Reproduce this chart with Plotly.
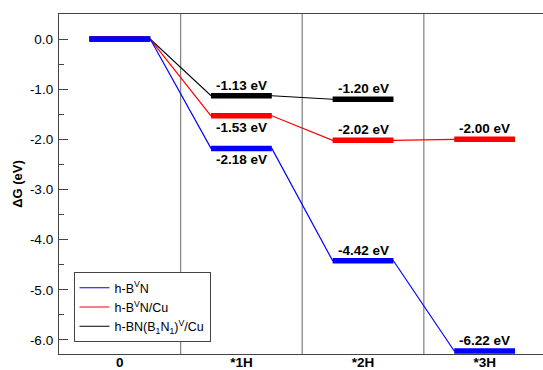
import plotly.graph_objects as go

categories = ["0", "*1H", "*2H", "*3H"]
series_names = [
    "h-B<sup>V</sup>N",
    "h-B<sup>V</sup>N/Cu",
    "h-BN(B<sub>1</sub>N<sub>1</sub>)<sup>V</sup>/Cu",
]
blue_vals = [0.0, -2.18, -4.42, -6.22]
red_vals = [0.0, -1.53, -2.02, -2.00]
black_vals = [0.0, -1.13, -1.20]
y_ticks = [0.0, -1.0, -2.0, -3.0, -4.0, -5.0, -6.0]

series = [
    (series_names[2], black_vals, "#000000", [None, "above", "above"], 3),
    (series_names[1], red_vals, "#ff0000", [None, "below", "above", "above"], 2),
    (series_names[0], blue_vals, "#0000ff", [None, "below", "above", "above"], 1),
]

HALF = 0.25
fig = go.Figure()
annotations = []
for name, vals, color, places, rank in series:
    xs, ys, bx, by = [], [], [], []
    for i, v in enumerate(vals):
        xs += [i - HALF, i + HALF]
        ys += [v, v]
        bx += [i - HALF, i + HALF, None]
        by += [v, v, None]
    fig.add_trace(go.Scatter(x=xs, y=ys, mode="lines", name=name,
                             line=dict(color=color, width=1.2), legendrank=rank))
    fig.add_trace(go.Scatter(x=bx, y=by, mode="lines", showlegend=False,
                             line=dict(color=color, width=5.5), hoverinfo="skip"))
    for i, v in enumerate(vals):
        if places[i] is None:
            continue
        above = places[i] == "above"
        annotations.append(dict(
            x=i, y=v, xref="x", yref="y", text=f"<b>{v:.2f} eV</b>",
            showarrow=False, yanchor="bottom" if above else "top",
            yshift=1 if above else -2,
            font=dict(size=13.5, color="#000000", family="Liberation Sans"),
        ))

shapes = [dict(type="line", xref="x", yref="paper", x0=i + 0.5, x1=i + 0.5,
               y0=0, y1=1, line=dict(color="#888888", width=1.3), layer="below")
          for i in range(len(categories) - 1)]

fig.update_layout(
    width=543, height=370,
    margin=dict(l=59, r=0, t=14, b=16),
    paper_bgcolor="white", plot_bgcolor="white",
    font=dict(family="Liberation Sans", size=13, color="#000000"),
    annotations=annotations, shapes=shapes,
    showlegend=True,
    legend=dict(x=0.03, y=0.035, xanchor="left", yanchor="bottom",
                bgcolor="white", bordercolor="#444444", borderwidth=1,
                font=dict(size=12.5, family="Liberation Sans"), itemwidth=30,
                tracegroupgap=0),
    xaxis=dict(range=[-0.5, 3.48], tickvals=list(range(len(categories))),
               ticktext=[f"<b>{c}</b>" for c in categories], ticks="",
               showgrid=False, zeroline=False, showline=True, linecolor="#444444",
               linewidth=1.3, mirror=True, automargin=False,
               ticklabelstandoff=-4, tickfont=dict(size=13.5)),
    yaxis=dict(range=[-6.28, 0.5], tickvals=y_ticks,
               ticktext=[f"{t:.1f}" for t in y_ticks], ticks="inside",
               ticklen=9, tickcolor="#444444", tickwidth=1.2,
               minor=dict(dtick=0.5, ticks="inside", ticklen=5, tickcolor="#444444"),
               showgrid=False, zeroline=False, showline=True, linecolor="#444444",
               linewidth=1.3, automargin=False, tickfont=dict(size=13.5),
               ticklabelstandoff=2,
               title=dict(text="<b>ΔG (eV)</b>", standoff=4, font=dict(size=13))),
    yaxis2=dict(range=[-6.28, 0.5], overlaying="y", side="right",
                tickvals=y_ticks, showticklabels=False, ticks="inside", ticklen=8,
                tickcolor="#666666", minor=dict(dtick=0.5, ticks="inside", ticklen=4,
                                                tickcolor="#666666"),
                showgrid=False, zeroline=False, showline=False),
)

fig.write_html("out.html", config={"displayModeBar": False},
               post_script="document.body.style.margin='0';document.body.style.overflow='hidden';")
